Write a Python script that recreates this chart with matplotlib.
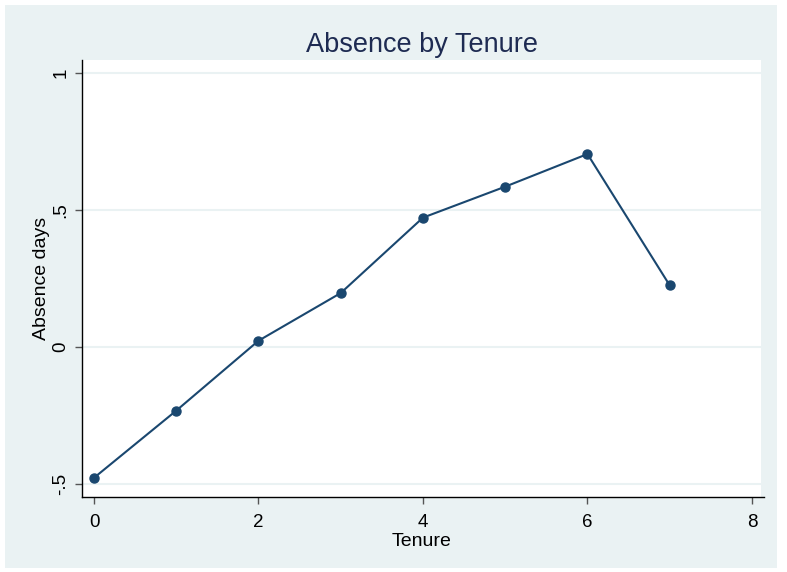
import matplotlib
matplotlib.use("Agg")
import matplotlib.pyplot as plt
from matplotlib.patches import Rectangle

tenure = [0, 1, 2, 3, 4, 5, 6, 7]
absence = [-0.477, -0.232, 0.023, 0.197, 0.472, 0.585, 0.704, 0.225]

yticks = [-0.5, 0, 0.5, 1]
ytick_labels = ["-.5", "0", ".5", "1"]
xticks = [0, 2, 4, 6, 8]

plt.rcParams['font.family'] = ['Liberation Sans', 'DejaVu Sans']

W, H = 787, 572
fig = plt.figure(figsize=(W / 100, H / 100), dpi=100, facecolor="white")

# stata-like light background panel, behind the axes
fig.patches.append(Rectangle((5 / W, 4 / H), 772 / W, 563 / H,
                             transform=fig.transFigure, facecolor="#eaf2f3",
                             edgecolor="none", zorder=-10))

ax = fig.add_axes([82 / W, 75 / H, 679 / W, 437 / H])
ax.set_zorder(5)
ax.set_facecolor("white")

ax.plot(tenure, absence, color="#1a476f", linewidth=1.5, marker="o",
        markersize=6.5, zorder=3)

ax.set_xlim(-0.146, 8.11)
ax.set_ylim(-0.547, 1.047)

ax.set_yticks(yticks)
ax.set_yticklabels(ytick_labels, rotation=90, va="center")
ax.set_xticks(xticks)

ax.grid(axis="y", color="#eaf2f3", linewidth=1.5)
ax.set_axisbelow(True)

for s in ["top", "right"]:
    ax.spines[s].set_visible(False)
for s in ["left", "bottom"]:
    ax.spines[s].set_color("black")
    ax.spines[s].set_linewidth(1.0)
ax.spines["bottom"].set_bounds(-0.146, 8.15)

ax.tick_params(axis="both", direction="out", length=5, width=1,
               color="#555555", labelsize=13.5, labelcolor="black")
ax.tick_params(axis="x", pad=7)
ax.tick_params(axis="y", pad=4)

ax.set_xlabel("Tenure", fontsize=14, labelpad=2)
ax.set_ylabel("Absence days", fontsize=14, labelpad=2)
ax.set_title("Absence by Tenure", fontsize=19.5, color="#1e2b52", pad=6)

fig.savefig("out.png", dpi=100, facecolor=fig.get_facecolor())
